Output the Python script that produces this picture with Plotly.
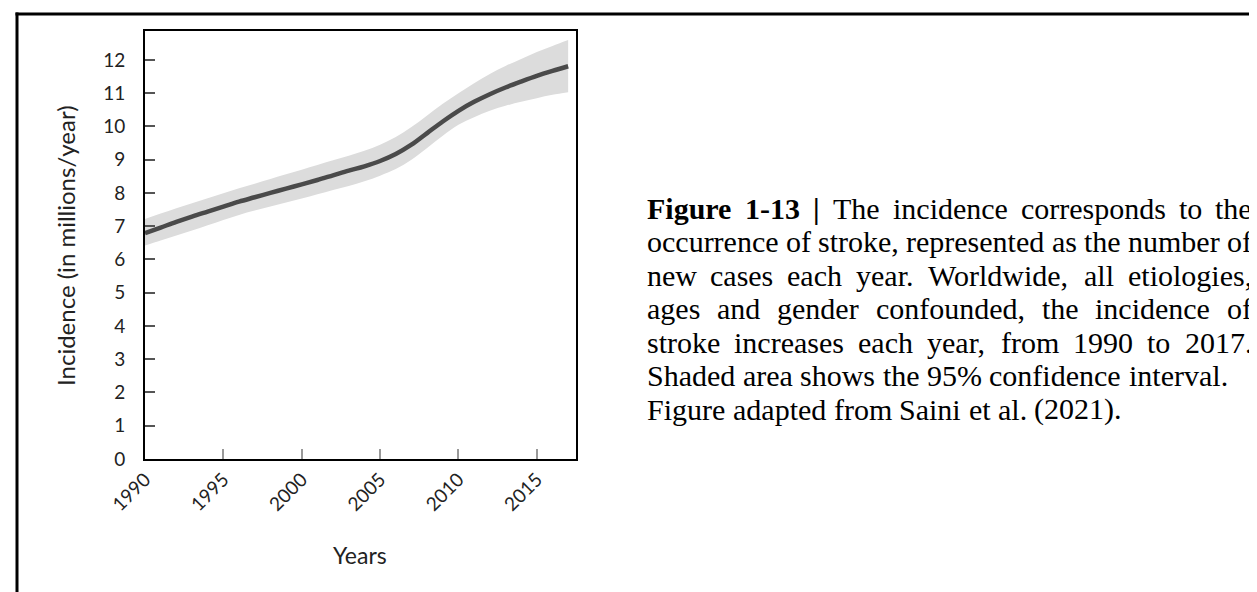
import plotly.graph_objects as go

# ---------------- data ----------------
years = list(range(1990, 2018))
incidence = [6.79, 6.96, 7.13, 7.29, 7.44, 7.59, 7.74, 7.87, 8.00, 8.13,
             8.26, 8.39, 8.53, 8.67, 8.80, 8.96, 9.17, 9.45, 9.80, 10.15,
             10.47, 10.74, 10.97, 11.17, 11.35, 11.52, 11.67, 11.81]
ci_upper = [7.22, 7.38, 7.54, 7.69, 7.84, 7.99, 8.14, 8.28, 8.42, 8.56,
            8.70, 8.84, 8.98, 9.12, 9.27, 9.45, 9.68, 9.98, 10.33, 10.68,
            11.00, 11.30, 11.58, 11.82, 12.03, 12.24, 12.42, 12.60]
ci_lower = [6.42, 6.57, 6.72, 6.87, 7.03, 7.19, 7.34, 7.47, 7.59, 7.71,
            7.83, 7.96, 8.09, 8.21, 8.35, 8.52, 8.72, 9.00, 9.35, 9.72,
            10.05, 10.28, 10.47, 10.62, 10.74, 10.85, 10.95, 11.03]
x_ticks = [1990, 1995, 2000, 2005, 2010, 2015]
y_ticks = list(range(0, 13))

x_title = "Years"
y_title = "Incidence (in millions/year)"
caption_lines = [
    [("Figure", True), ("1-13", True), ("|", True), ("The", False), ("incidence", False),
     ("corresponds", False), ("to", False), ("the", False)],
    [(w, False) for w in "occurrence of stroke, represented as the number of".split()],
    [(w, False) for w in "new cases each year. Worldwide, all etiologies,".split()],
    [(w, False) for w in "ages and gender confounded, the incidence of".split()],
    [(w, False) for w in "stroke increases each year, from 1990 to 2017.".split()],
    [(w, False) for w in "Shaded area shows the 95% confidence interval.".split()],
    [(w, False) for w in "Figure adapted from Saini et al. (2021).".split()],
]
justified = [True, True, True, True, True, False, False]

# ---------------- layout geometry (pixels) ----------------
WIDTH, HEIGHT = 1257, 592
L, R, T, B = 137, 568, 23, 451
PW, PH = R - L, B - T


def px(x):
    return (x - L) / PW


def py(y):
    return (B - y) / PH


# Times New Roman advance widths (1/1000 em)
REG = {' ': 250, '.': 250, ',': 250, '(': 333, ')': 333, '%': 833, '-': 333, '|': 200,
       'F': 556, 'S': 556, 'T': 611, 'W': 944,
       'a': 444, 'b': 500, 'c': 444, 'd': 500, 'e': 444, 'f': 333, 'g': 500, 'h': 500,
       'i': 278, 'k': 500, 'l': 278, 'm': 778, 'n': 500, 'o': 500, 'p': 500, 'r': 333,
       's': 389, 't': 278, 'u': 500, 'v': 500, 'w': 722, 'y': 500}
for d in "0123456789":
    REG[d] = 500
BOLD = dict(REG)
BOLD.update({'F': 611, 'u': 556, 'r': 444, '|': 220, 'g': 500, 'i': 278, 'e': 444})


def word_width(w, bold, size):
    tab = BOLD if bold else REG
    return sum(tab.get(c, 500) for c in w) / 1000.0 * size


fig = go.Figure()

fig.add_trace(go.Scatter(x=years, y=ci_lower, mode="lines", line=dict(width=0, shape="spline"),
                         hoverinfo="skip", showlegend=False))
fig.add_trace(go.Scatter(x=years, y=ci_upper, mode="lines", line=dict(width=0, shape="spline"),
                         fill="tonexty", fillcolor="#dcdcdc", hoverinfo="skip", showlegend=False))
fig.add_trace(go.Scatter(x=years, y=incidence, mode="lines",
                         line=dict(color="#4a4a4a", width=4.5, shape="spline"), showlegend=False))

SANS = "Lato, 'Open Sans', sans-serif"
tick_font = dict(family=SANS, size=19, color="#222222")

fig.update_xaxes(range=[1990, 2017.5], tickvals=x_ticks, ticktext=[str(v) for v in x_ticks],
                 tickangle=-45, ticks="inside", ticklen=10, tickwidth=1.5, tickcolor="#999999",
                 showline=True, linecolor="black", linewidth=2, mirror=True,
                 showgrid=False, zeroline=False, tickfont=tick_font)
fig.update_yaxes(range=[0, 12.87], tickvals=y_ticks, ticks="inside", ticklen=10, tickwidth=1.5,
                 tickcolor="#555555", showline=True, linecolor="black", linewidth=2, mirror=True,
                 showgrid=False, zeroline=False, tickfont=tick_font, ticklabelstandoff=14)

annotations = []
# axis titles
annotations.append(dict(text=y_title, xref="paper", yref="paper", x=px(58), y=py(238),
                        xanchor="center", yanchor="middle", textangle=-90, showarrow=False,
                        font=dict(family=SANS, size=24, color="#222222")))
annotations.append(dict(text=x_title, xref="paper", yref="paper", x=px(352), y=py(547),
                        xanchor="center", yanchor="middle", showarrow=False,
                        font=dict(family=SANS, size=23, color="#222222")))

# caption, justified word by word
CAP_SIZE = 30
CAP_LEFT, CAP_RIGHT = 638, 1243
BASE0, LEAD = 210.5, 33.5
for i, words in enumerate(caption_lines):
    base = BASE0 + i * LEAD
    yc = base - 0.3375 * CAP_SIZE
    widths = [word_width(w, b, CAP_SIZE) for w, b in words]
    if justified[i] and len(words) > 1:
        gap = (CAP_RIGHT - CAP_LEFT - sum(widths)) / (len(words) - 1)
    else:
        gap = 0.25 * CAP_SIZE
    xcur = CAP_LEFT
    for (w, b), wd in zip(words, widths):
        txt = "<b>%s</b>" % w if b else w
        annotations.append(dict(text=txt, xref="paper", yref="paper", x=px(xcur - 1), y=py(yc),
                                xanchor="left", yanchor="middle", showarrow=False,
                                font=dict(family="Liberation Serif, 'Times New Roman', serif",
                                          size=CAP_SIZE, color="black")))
        xcur += wd + gap

# outer frame (left and top border of the page region)
shapes = [
    dict(type="line", xref="paper", yref="paper", x0=px(9), x1=px(9), y0=py(4.5), y1=py(600),
         line=dict(color="black", width=3)),
    dict(type="line", xref="paper", yref="paper", x0=px(7.5), x1=px(1265), y0=py(6), y1=py(6),
         line=dict(color="black", width=3)),
]

fig.update_layout(width=WIDTH, height=HEIGHT, autosize=False,
                  margin=dict(l=L, r=WIDTH - R, t=T, b=HEIGHT - B, pad=0),
                  paper_bgcolor="white", plot_bgcolor="white", showlegend=False,
                  annotations=annotations, shapes=shapes)

fig.write_html("out.html", config={"displayModeBar": False})
